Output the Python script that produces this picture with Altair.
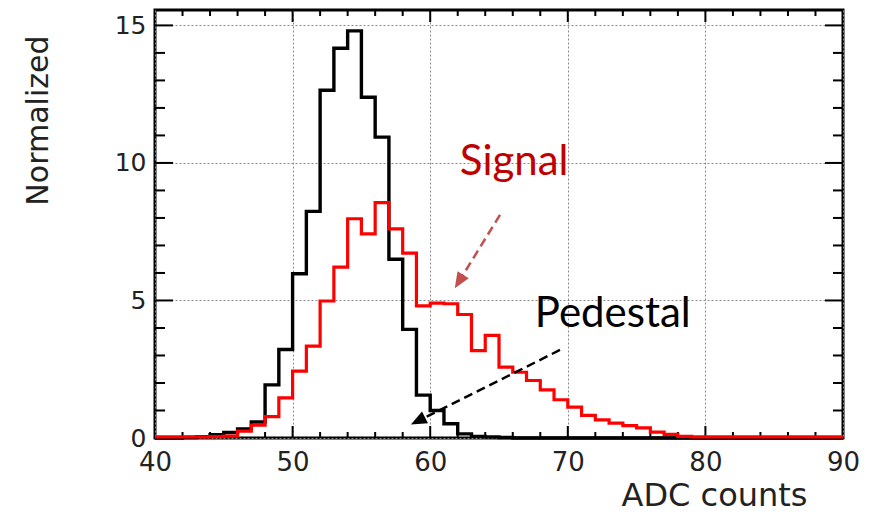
import altair as alt
import pandas as pd

# ---------------- data ----------------
adc_bins = list(range(40, 90))  # left bin edges, bin width = 1 ADC count

pedestal = [0.0, 0.0, 0.02, 0.05, 0.12, 0.2, 0.33, 0.58, 1.93, 3.22,
            5.97, 8.24, 12.64, 14.17, 14.8, 12.39, 10.94, 6.5, 3.95, 1.56,
            1.0, 0.52, 0.15, 0.06, 0.04, 0.02, 0.0, 0.0, 0.0, 0.0,
            0.0, 0.0, 0.0, 0.0, 0.0, 0.0, 0.0, 0.0, 0.0, 0.0,
            0.0, 0.0, 0.0, 0.0, 0.0, 0.0, 0.0, 0.0, 0.0, 0.0]

signal = [0.04, 0.04, 0.04, 0.04, 0.05, 0.07, 0.25, 0.47, 0.78, 1.46,
          2.43, 3.34, 4.98, 6.21, 7.97, 7.42, 8.56, 7.6, 6.72, 4.8,
          4.9, 4.88, 4.49, 3.18, 3.73, 2.58, 2.39, 2.09, 1.75, 1.39,
          1.12, 0.82, 0.66, 0.54, 0.45, 0.37, 0.21, 0.13, 0.06, 0.04,
          0.04, 0.04, 0.04, 0.04, 0.04, 0.04, 0.04, 0.04, 0.04, 0.04]

x_major = [40, 50, 60, 70, 80, 90]
y_major = [0, 5, 10, 15]
x_inner_major = [50, 60, 70, 80]
x_minor = [v for v in range(42, 90, 2) if v % 10 != 0]
y_inner_major = [5, 10, 15]
y_minor = [v for v in range(1, 16) if v % 5 != 0]

ann_text = ["Signal", "Pedestal"]
ann_x = [62.15, 67.6]
ann_y = [9.56, 4.03]
ann_color = ["#C00000", "#000000"]

arrow_x = [65.07, 69.43]
arrow_y = [8.11, 3.2]
arrow_x2 = [62.09, 59.11]
arrow_y2 = [5.69, 0.62]
arrow_angle = [212, 243]
arrow_color = ["#C0504D", "#000000"]

# arrowhead outline (points up before rotation, unit coordinates)
ARROW_HEAD = "M0,-0.5L0.42,0.5L-0.42,0.5Z"

# ---------------- layout constants ----------------
W, H = 688, 428
X_DOMAIN = [40, 90]
Y_DOMAIN = [0, 15.56]
LABEL_FONT = "DejaVu Sans"

x_axis = alt.Axis(values=x_major, format="d", title="ADC counts",
                  ticks=False, domain=False, grid=True, labelFlush=False,
                  gridDash=[2, 2], gridColor="#8a8a8a", gridWidth=1,
                  labelFont=LABEL_FONT, labelFontSize=26, labelColor="#222222",
                  labelPadding=11,
                  titleFont=LABEL_FONT, titleFontSize=32, titleFontWeight="normal",
                  titleColor="#222222", titleX=652, titleY=67,
                  titleAlign="right", titleBaseline="alphabetic")
y_axis = alt.Axis(values=y_major, format="d", title="Normalized",
                  ticks=False, domain=False, grid=True, labelFlush=False,
                  gridDash=[2, 2], gridColor="#8a8a8a", gridWidth=1,
                  labelFont=LABEL_FONT, labelFontSize=25, labelColor="#222222",
                  labelPadding=9,
                  titleFont=LABEL_FONT, titleFontSize=30, titleFontWeight="normal",
                  titleColor="#222222", titleX=-117, titleY=25,
                  titleAlign="right", titleBaseline="middle", titleAngle=270)


def xs(field):
    return alt.X(field, type="quantitative",
                 scale=alt.Scale(domain=X_DOMAIN, nice=False, zero=False),
                 axis=x_axis)


def ys(field):
    return alt.Y(field, type="quantitative",
                 scale=alt.Scale(domain=Y_DOMAIN, nice=False),
                 axis=y_axis)


def step_df(values):
    return pd.DataFrame({"adc": adc_bins + [90], "value": values + [values[-1]]})


# main histograms (step outlines)
ped_line = alt.Chart(step_df(pedestal)).mark_line(
    interpolate="step-after", color="#000000", strokeWidth=3.4
).encode(x=xs("adc"), y=ys("value"))

sig_line = alt.Chart(step_df(signal)).mark_line(
    interpolate="step-after", color="#ff0000", strokeWidth=3.2
).encode(x=xs("adc"), y=ys("value"))


# inward ticks on all four sides
def x_ticks(vals, length):
    df = pd.DataFrame({"adc": vals})
    bottom = alt.Chart(df).mark_rule(color="black", strokeWidth=2).encode(
        x=xs("adc"), y=alt.value(H), y2=alt.value(H - length))
    top = alt.Chart(df).mark_rule(color="black", strokeWidth=2).encode(
        x=xs("adc"), y=alt.value(0), y2=alt.value(length))
    return [bottom, top]


def y_ticks(vals, length):
    df = pd.DataFrame({"value": vals})
    left = alt.Chart(df).mark_rule(color="black", strokeWidth=2).encode(
        y=ys("value"), x=alt.value(0), x2=alt.value(length))
    right = alt.Chart(df).mark_rule(color="black", strokeWidth=2).encode(
        y=ys("value"), x=alt.value(W), x2=alt.value(W - length))
    return [left, right]


ticks = (x_ticks(x_minor, 6) + x_ticks(x_inner_major, 12)
         + y_ticks(y_minor, 10) + y_ticks(y_inner_major, 18))

# annotations
ann_df = pd.DataFrame({"text": ann_text, "adc": ann_x, "value": ann_y, "c": ann_color})
ann = alt.Chart(ann_df).mark_text(
    align="left", baseline="alphabetic", font="Lato", fontSize=42
).encode(x=xs("adc"), y=ys("value"), text="text:N",
         color=alt.Color("c:N", scale=None))

arr_df = pd.DataFrame({"adc": arrow_x, "value": arrow_y, "x2": arrow_x2, "y2": arrow_y2,
                       "c": arrow_color})
arr_lines = alt.Chart(arr_df).mark_rule(strokeWidth=2.5, strokeDash=[9, 5]).encode(
    x=xs("adc"), y=ys("value"), x2="x2:Q", y2="y2:Q",
    color=alt.Color("c:N", scale=None))

head_df = pd.DataFrame({"adc": arrow_x2, "value": arrow_y2,
                        "ang": arrow_angle, "c": arrow_color})
arr_heads = alt.Chart(head_df).mark_point(
    shape=ARROW_HEAD, filled=True, size=1000, opacity=1, strokeWidth=0
).encode(x=xs("adc"), y=ys("value"),
         angle=alt.Angle("ang:Q", scale=None),
         color=alt.Color("c:N", scale=None))

chart = alt.layer(
    ped_line, *ticks, sig_line, arr_lines, arr_heads, ann
).properties(
    width=W, height=H,
    autosize=alt.AutoSizeParams(type="none"),
    padding={"left": 147, "top": 2, "right": 21, "bottom": 77},
    background="white",
).configure_view(stroke="black", strokeWidth=3)

chart.save("out.html", embed_options={"renderer": "svg", "actions": False})
